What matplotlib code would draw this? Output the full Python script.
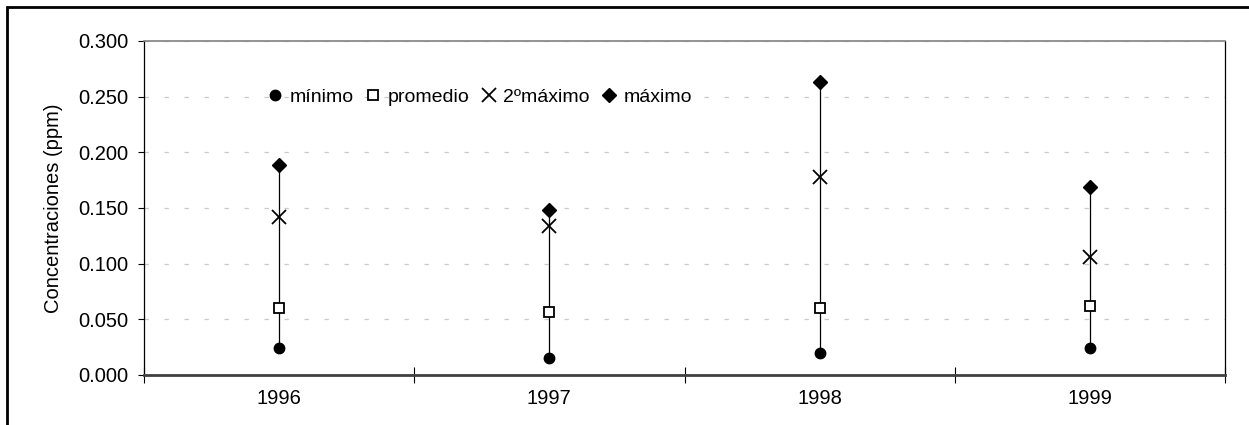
import matplotlib.pyplot as plt
from matplotlib.patches import Rectangle

plt.rcParams['font.family'] = ['Liberation Sans', 'DejaVu Sans']

years = ['1996', '1997', '1998', '1999']
minimo = [0.024, 0.0155, 0.0195, 0.0245]
promedio = [0.060, 0.057, 0.0605, 0.062]
segundo_max = [0.142, 0.134, 0.178, 0.106]
maximo = [0.189, 0.148, 0.263, 0.169]
yticks = [0, 0.05, 0.1, 0.15, 0.2, 0.25, 0.3]

fig = plt.figure(figsize=(12.49, 4.25), dpi=100)
ax = fig.add_axes([144 / 1249, 50 / 425, 1081 / 1249, 334 / 425])

x = list(range(len(years)))

# vertical range line from min to max
ax.vlines(x, minimo, maximo, color='black', lw=0.9, zorder=2)

ax.plot(x, minimo, 'o', color='black', ms=7.5, ls='none', label='mínimo', zorder=3)
ax.plot(x, promedio, 's', mfc='white', mec='black', mew=1.3, ms=7.5, ls='none',
        label='promedio', zorder=3)
ax.plot(x, segundo_max, 'x', color='black', ms=10, mew=1.3, ls='none',
        label='2ºmáximo', zorder=3)
ax.plot(x, maximo, 'D', color='black', ms=7.5, ls='none', label='máximo', zorder=3)

ax.set_xlim(-0.5, len(years) - 0.5)
ax.set_ylim(0, 0.3)
ax.set_yticks(yticks)
ax.set_yticklabels([f'{v:.3f}' for v in yticks], fontsize=14.5)
ax.set_ylabel('Concentraciones (ppm)', fontsize=14.5, labelpad=11)

# category labels centered, ticks on boundaries
ax.set_xticks([i - 0.5 for i in range(len(years) + 1)])
ax.set_xticklabels([])
ax.set_xticks(x, minor=True)
ax.set_xticklabels(years, minor=True, fontsize=14.5)
ax.tick_params(axis='x', which='minor', length=0, pad=10)
ax.tick_params(axis='x', which='major', direction='inout', length=12, width=0.8)
ax.tick_params(axis='y', direction='out', length=4.3, width=0.8, pad=7)

ax.grid(axis='y', color='#c8c8c8', ls=(0, (3.5, 12.5)), lw=0.9)
ax.set_axisbelow(True)

ax.spines['top'].set_color('#808080')
ax.spines['top'].set_linewidth(1.2)
ax.spines['right'].set_color('black')
ax.spines['right'].set_linewidth(0.9)
ax.spines['left'].set_linewidth(0.9)
ax.spines['bottom'].set_color('#404040')
ax.spines['bottom'].set_linewidth(2)

ax.legend(loc='center left', bbox_to_anchor=(0.1155, 0.832), ncol=4, frameon=False,
          fontsize=14, handlelength=0.6, handletextpad=0.45, columnspacing=0.7,
          borderpad=0, borderaxespad=0)

# outer chart border (only top and left visible in the crop)
fig.add_artist(Rectangle((7 / 1249, -0.5), 2, 1.5 - 7 / 425, transform=fig.transFigure,
                         fill=False, ec='black', lw=2))

fig.savefig('out.png', dpi=100)
